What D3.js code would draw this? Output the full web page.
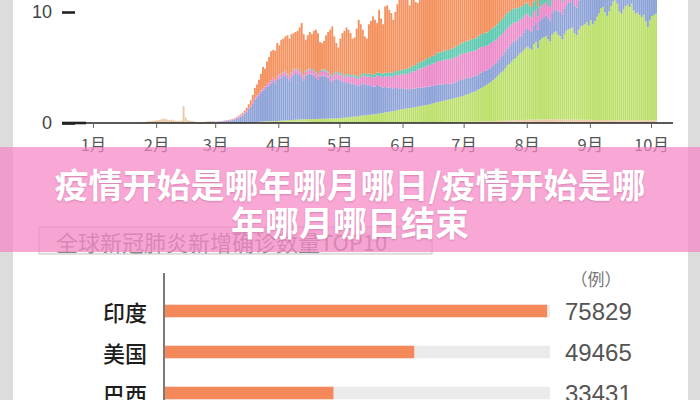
<!DOCTYPE html>
<html><head><meta charset="utf-8">
<script src="https://cdn.jsdelivr.net/npm/d3@7"></script>
<style>html,body{margin:0;padding:0;background:#dcdcdc;} svg{display:block;}</style>
</head><body><svg id="c" width="700" height="400"></svg>
<script>
// ---------- DATA ----------
const monthLabels = ["1月","2月","3月","4月","5月","6月","7月","8月","9月","10月"];
const yTickValues = [0, 10];
const regionNames = ["西太平洋","东南亚","欧洲","东地中海","非洲","美洲"];
const regionColors = ["#ecc9a6","#bde06d","#8ea3d7","#ec8dcb","#60c9b1","#f4925f"];

// daily new cases (万), one array per month Jan..Oct
const wpac = [
 [0,0,0,0,0,0,0,0,0,0,0,0,0,0,0,0,0,0,0,0.01,0.01,0.02,0.03,0.04,0.07,0.08,0.13,0.17,0.15,0.2,0.21],
 [0.26,0.28,0.32,0.39,0.37,0.31,0.27,0.3,0.25,0.2,0.18,0.2,0.22,1.52,0.5,0.26,0.2,0.19,0.17,0.04,0.09,0.06,0.07,0.08,0.1,0.12,0.13,0.12,0.09],
 [0.06,0.06,0.07,0.06,0.06,0.05,0.05,0.04,0.03,0.03,0.03,0.03,0.03,0.03,0.03,0.04,0.04,0.04,0.05,0.06,0.06,0.07,0.08,0.09,0.1,0.11,0.11,0.1,0.1,0.09,0.09],
 [0.1,0.1,0.1,0.11,0.11,0.1,0.1,0.11,0.12,0.12,0.13,0.12,0.12,0.12,0.1,0.1,0.1,0.09,0.08,0.08,0.07,0.07,0.06,0.06,0.06,0.05,0.05,0.05,0.05,0.05],
 [0.05,0.05,0.04,0.04,0.05,0.05,0.05,0.04,0.04,0.04,0.05,0.05,0.05,0.05,0.05,0.05,0.05,0.05,0.05,0.05,0.05,0.05,0.06,0.06,0.06,0.06,0.06,0.06,0.06,0.07,0.07],
 [0.07,0.07,0.07,0.07,0.07,0.07,0.07,0.08,0.08,0.08,0.08,0.08,0.08,0.08,0.08,0.08,0.09,0.09,0.09,0.09,0.09,0.1,0.1,0.1,0.1,0.1,0.1,0.1,0.1,0.11],
 [0.11,0.11,0.12,0.12,0.12,0.13,0.13,0.13,0.14,0.14,0.15,0.15,0.16,0.16,0.17,0.17,0.18,0.19,0.2,0.2,0.21,0.22,0.22,0.23,0.24,0.25,0.25,0.26,0.27,0.28,0.28],
 [0.29,0.3,0.3,0.31,0.32,0.32,0.33,0.33,0.33,0.34,0.34,0.34,0.35,0.35,0.34,0.34,0.33,0.33,0.33,0.32,0.32,0.31,0.31,0.3,0.3,0.3,0.29,0.29,0.29,0.28,0.28],
 [0.28,0.27,0.27,0.27,0.26,0.26,0.26,0.26,0.25,0.25,0.25,0.25,0.25,0.25,0.25,0.25,0.25,0.25,0.25,0.25,0.25,0.25,0.25,0.24,0.24,0.24,0.24,0.24,0.24,0.24],
 [0.24,0.24,0.24]
];
const seAsia = [
 [0,0,0,0,0,0,0,0,0,0,0,0,0,0,0,0,0,0,0,0,0,0,0,0,0,0,0,0,0,0,0],
 [0,0,0,0,0,0,0,0,0,0,0,0,0,0,0,0,0,0,0,0,0,0,0,0,0,0,0,0,0],
 [0,0,0,0,0,0,0,0,0,0,0.002,0.003,0.005,0.005,0.008,0.01,0.012,0.015,0.02,0.025,0.03,0.04,0.04,0.05,0.05,0.06,0.06,0.07,0.07,0.08,0.08],
 [0.1,0.11,0.12,0.13,0.14,0.15,0.16,0.17,0.18,0.19,0.2,0.21,0.22,0.23,0.24,0.25,0.26,0.27,0.28,0.29,0.3,0.31,0.32,0.33,0.34,0.35,0.36,0.37,0.38,0.39],
 [0.4,0.42,0.44,0.46,0.48,0.5,0.52,0.54,0.56,0.58,0.6,0.62,0.64,0.66,0.68,0.7,0.72,0.74,0.77,0.8,0.83,0.86,0.89,0.92,0.95,0.98,1.01,1.05,1.09,1.13,1.17],
 [1.2,1.22,1.25,1.28,1.3,1.33,1.36,1.4,1.43,1.46,1.5,1.53,1.56,1.6,1.66,1.72,1.76,1.8,1.84,1.88,1.92,1.96,2.0,2.05,2.1,2.14,2.18,2.22,2.27,2.32],
 [2.38,2.45,2.5,2.6,2.65,2.7,2.8,2.9,3.0,3.1,3.2,3.3,3.4,3.55,3.7,3.85,4.0,4.2,4.35,4.5,4.75,5.0,5.1,5.3,5.5,5.6,5.8,6.0,6.1,6.3,6.5],
 [6.6,6.4,6.3,6.8,7.0,6.4,7.1,7.3,7.4,7.5,7.2,7.0,7.6,7.8,7.9,7.6,7.5,7.2,7.7,8.0,8.1,8.2,8.3,7.8,7.6,8.1,8.4,8.5,8.6,8.8,8.5],
 [9.0,8.6,8.9,9.3,9.6,10.1,10.2,9.7,9.4,9.8,10.3,10.7,10.8,10.5,9.8,9.6,10.0,10.3,10.4,10.2,10.5,9.9,9.6,9.7,9.5,9.3,9.5,8.9,8.4,9.0],
 [9.4,9.5,9.6]
];
const europe = [
 [0,0,0,0,0,0,0,0,0,0,0,0,0,0,0,0,0,0,0,0,0,0,0,0,0,0,0,0,0,0,0],
 [0,0,0,0,0,0,0,0,0,0,0,0,0,0,0,0,0,0,0,0,0,0.001,0.002,0.005,0.01,0.01,0.02,0.02,0.03],
 [0.04,0.05,0.06,0.08,0.1,0.12,0.15,0.18,0.22,0.28,0.35,0.45,0.55,0.65,0.8,1.0,1.2,1.4,1.7,2.0,2.2,2.4,2.6,2.8,2.9,3.1,3.2,3.4,3.6,3.4,3.7],
 [3.8,3.9,4.0,4.1,3.8,3.6,3.9,4.1,4.2,4.1,4.0,3.8,3.5,3.9,4.0,4.1,4.0,3.9,3.7,3.5,3.8,3.9,3.9,3.8,3.7,3.4,3.3,3.5,3.6,3.5],
 [3.4,3.3,3.1,3.2,3.1,3.0,3.0,2.9,2.8,2.7,2.8,2.9,2.8,2.7,2.7,2.6,2.5,2.5,2.6,2.5,2.4,2.3,2.3,2.2,2.2,2.1,2.0,2.1,2.0,1.9,1.9],
 [1.8,1.8,1.7,1.7,1.75,1.7,1.65,1.7,1.7,1.65,1.6,1.65,1.65,1.6,1.6,1.55,1.6,1.6,1.55,1.5,1.5,1.45,1.4,1.4,1.35,1.4,1.45,1.45,1.5,1.5],
 [1.5,1.5,1.45,1.4,1.4,1.4,1.35,1.4,1.4,1.35,1.35,1.3,1.3,1.3,1.3,1.3,1.3,1.35,1.4,1.45,1.5,1.5,1.55,1.6,1.6,1.55,1.5,1.5,1.5,1.55,1.6],
 [1.6,1.6,1.6,1.65,1.7,1.7,1.75,1.8,1.8,1.85,1.9,1.9,1.95,2.0,2.0,2.1,2.2,2.2,2.3,2.3,2.4,2.4,2.5,2.5,2.5,2.6,2.6,2.7,2.7,2.8,2.8],
 [2.8,2.9,3.0,3.0,3.1,3.2,3.3,3.3,3.4,3.5,3.6,3.6,3.7,3.8,3.9,4.0,4.0,4.1,4.2,4.3,4.3,4.4,4.5,4.6,4.6,4.7,4.8,4.9,4.9,5.0],
 [5.1,5.2,5.3]
];
const emed = [
 [0,0,0,0,0,0,0,0,0,0,0,0,0,0,0,0,0,0,0,0,0,0,0,0,0,0,0,0,0,0,0],
 [0,0,0,0,0,0,0,0,0,0,0,0,0,0,0,0,0,0,0,0,0,0,0.001,0.002,0.003,0.005,0.005,0.008,0.01],
 [0.02,0.03,0.03,0.04,0.05,0.06,0.06,0.07,0.08,0.08,0.09,0.1,0.1,0.11,0.12,0.12,0.13,0.14,0.15,0.16,0.17,0.18,0.19,0.2,0.22,0.24,0.25,0.27,0.28,0.3,0.3],
 [0.3,0.3,0.32,0.32,0.33,0.33,0.34,0.35,0.35,0.36,0.36,0.37,0.37,0.38,0.38,0.39,0.4,0.4,0.41,0.42,0.42,0.43,0.44,0.45,0.45,0.46,0.47,0.48,0.49,0.5],
 [0.5,0.52,0.54,0.56,0.58,0.6,0.62,0.64,0.66,0.68,0.7,0.72,0.74,0.76,0.78,0.8,0.82,0.84,0.86,0.88,0.9,0.93,0.96,0.99,1.02,1.05,1.08,1.12,1.16,1.2,1.25],
 [1.3,1.35,1.4,1.45,1.5,1.55,1.6,1.65,1.7,1.75,1.8,1.85,1.9,1.95,2.0,2.0,2.05,2.1,2.1,2.15,2.2,2.2,2.2,2.25,2.25,2.25,2.25,2.3,2.3,2.3],
 [2.3,2.3,2.3,2.3,2.3,2.3,2.3,2.3,2.3,2.25,2.25,2.2,2.2,2.2,2.15,2.1,2.1,2.05,2.0,1.95,1.9,1.85,1.8,1.75,1.7,1.65,1.6,1.55,1.5,1.45,1.4],
 [1.35,1.3,1.3,1.25,1.25,1.2,1.22,1.18,1.2,1.21,1.19,1.2,1.22,1.2,1.18,1.17,1.2,1.22,1.21,1.19,1.18,1.2,1.2,1.19,1.18,1.2,1.21,1.2,1.19,1.2,1.2],
 [1.2,1.2,1.2,1.25,1.25,1.25,1.3,1.3,1.3,1.3,1.35,1.35,1.35,1.35,1.4,1.4,1.4,1.4,1.45,1.45,1.45,1.45,1.5,1.5,1.5,1.5,1.5,1.5,1.5,1.5],
 [1.5,1.5,1.5]
];
const africa = [
 [0,0,0,0,0,0,0,0,0,0,0,0,0,0,0,0,0,0,0,0,0,0,0,0,0,0,0,0,0,0,0],
 [0,0,0,0,0,0,0,0,0,0,0,0,0,0,0,0,0,0,0,0,0,0,0,0,0,0,0,0,0],
 [0,0,0,0,0,0,0,0,0,0,0,0,0,0,0,0.002,0.003,0.005,0.007,0.01,0.01,0.012,0.015,0.02,0.02,0.025,0.03,0.03,0.035,0.04,0.04],
 [0.04,0.045,0.05,0.05,0.055,0.06,0.06,0.065,0.07,0.07,0.075,0.08,0.08,0.085,0.09,0.09,0.095,0.1,0.1,0.105,0.11,0.11,0.115,0.12,0.12,0.125,0.13,0.13,0.135,0.14],
 [0.15,0.15,0.16,0.16,0.17,0.17,0.18,0.18,0.19,0.19,0.2,0.21,0.22,0.23,0.24,0.25,0.26,0.27,0.28,0.29,0.3,0.31,0.32,0.33,0.34,0.35,0.36,0.37,0.38,0.39,0.4],
 [0.42,0.44,0.46,0.48,0.5,0.52,0.54,0.56,0.58,0.6,0.62,0.64,0.66,0.68,0.7,0.72,0.74,0.76,0.78,0.8,0.82,0.84,0.86,0.88,0.9,0.92,0.94,0.96,0.98,1.0],
 [1.02,1.04,1.06,1.08,1.1,1.1,1.12,1.14,1.16,1.18,1.2,1.2,1.22,1.24,1.26,1.28,1.3,1.3,1.32,1.34,1.35,1.35,1.35,1.3,1.3,1.25,1.2,1.15,1.1,1.05,1.0],
 [1.0,0.98,0.95,0.93,0.9,0.88,0.86,0.84,0.82,0.8,0.78,0.76,0.74,0.72,0.7,0.68,0.66,0.64,0.62,0.6,0.6,0.58,0.56,0.55,0.54,0.53,0.52,0.51,0.5,0.5,0.5],
 [0.5,0.5,0.49,0.48,0.47,0.46,0.45,0.44,0.43,0.42,0.41,0.4,0.4,0.39,0.38,0.37,0.36,0.35,0.35,0.34,0.34,0.33,0.33,0.32,0.32,0.31,0.31,0.3,0.3,0.3],
 [0.3,0.3,0.3]
];
const americas = [
 [0,0,0,0,0,0,0,0,0,0,0,0,0,0,0,0,0,0,0,0,0,0,0,0,0,0,0,0,0,0,0],
 [0,0,0,0,0,0,0,0,0,0,0,0,0,0,0,0,0,0,0,0,0,0,0,0,0,0,0,0,0],
 [0,0,0,0,0.01,0.01,0.01,0.02,0.03,0.04,0.05,0.07,0.1,0.12,0.15,0.2,0.3,0.45,0.6,0.9,1.0,1.2,1.5,1.9,1.6,2.0,2.3,2.6,2.5,2.6,3.0],
 [2.66,3.05,3.01,3.09,3.47,3.36,3.44,3.3,3.28,3.46,3.84,4.42,3.71,2.79,3.09,3.27,3.15,3.54,3.83,3.7,2.6,2.38,2.57,3.14,3.53,4.02,4.39,3.27,2.55,2.22],
 [3.1,3.66,4.02,4.18,4.02,3.78,3.23,3.4,4.25,5.11,4.55,3.9,3.35,3.2,4.45,4.8,5.25,4.9,4.44,5.68,4.92,4.45,5.97,6.1,5.63,5.36,4.79,5.3,6.01,6.61,6.71],
 [6.61,6.32,6.62,5.62,6.18,6.43,5.68,5.41,5.71,7.0,7.3,7.5,7.2,6.9,7.6,7.8,8.0,8.2,7.6,7.4,8.1,8.4,8.6,8.8,8.3,8.0,9.0,9.3,9.5,9.8],
 [10.0,10.2,10.5,10.1,9.8,10.6,11.0,11.3,11.6,11.8,11.2,10.9,11.9,12.2,12.5,12.6,12.3,11.8,12.4,12.8,13.0,13.2,12.9,12.4,12.0,12.6,13.0,13.3,13.5,13.0,12.6],
 [12.0,11.5,11.2,11.8,12.0,12.2,11.6,11.0,10.8,10.5,11.2,11.5,11.3,11.0,10.6,10.2,10.0,10.5,10.8,10.6,10.2,9.8,9.5,9.8,10.0,10.2,9.9,9.6,9.4,9.2,9.0],
 [9.0,8.8,8.6,8.9,9.1,8.7,8.4,8.2,8.5,8.8,8.6,8.3,8.0,8.2,8.5,8.7,8.4,8.1,8.3,8.6,8.8,8.5,8.2,8.0,8.3,8.6,8.9,8.7,8.4,8.2],
 [8.5,8.8,9.0]
];

const topCategories = ["印度","美国","巴西"];
const topValues = [75829, 49465, 33431];
const unitLabel = "（例）";
const boxTitle = "全球新冠肺炎新增确诊数量TOP10";
const bannerLines = ["疫情开始是哪年哪月哪日/疫情开始是哪","年哪月哪日结束"];

// ---------- DRAW ----------
const svg = d3.select("#c");
svg.append("rect").attr("width",700).attr("height",400).attr("fill","#dcdcdc");
svg.append("rect").attr("x",13).attr("y",0).attr("width",675).attr("height",400).attr("fill","#ffffff");

const seriesData = [wpac, seAsia, europe, emed, africa, americas];
const rows = [];
for (let m = 0; m < wpac.length; m++) {
  for (let i = 0; i < wpac[m].length; i++) {
    const row = {date: new Date(2020, m, i + 1)};
    seriesData.forEach((s, k) => { row[regionNames[k]] = (s[m] && s[m][i]) || 0; });
    rows.push(row);
  }
}
const layers = d3.stack().keys(regionNames)(rows);

const x = d3.scaleTime().domain([new Date(2020,0,1), new Date(2020,9,1)]).range([93, 651]);
const y = d3.scaleLinear().domain([0, 10]).range([123, 12]);
const color = d3.scaleOrdinal().domain(regionNames).range(regionColors);

const gBars = svg.append("g");
gBars.selectAll("g").data(layers).join("g")
  .attr("fill", d => color(d.key))
  .selectAll("rect").data(d => d).join("rect")
  .attr("x", d => x(d.data.date))
  .attr("width", d => x(d3.timeDay.offset(d.data.date, 1)) - x(d.data.date) - 0.12)
  .attr("y", d => y(d[1]))
  .attr("height", d => Math.max(0, y(d[0]) - y(d[1])));

// baseline
svg.append("line").attr("x1",62).attr("x2",673).attr("y1",y(0)).attr("y2",y(0))
  .attr("stroke","#222").attr("stroke-width",1.4);
svg.append("line").attr("x1",62).attr("x2",86).attr("y1",y(0)).attr("y2",y(0))
  .attr("stroke","#222").attr("stroke-width",2.6);

// x axis
const monthDates = monthLabels.map((_, i) => new Date(2020, i, 1));
const xAxis = svg.append("g").attr("transform", `translate(0,${y(0)})`)
  .call(d3.axisBottom(x).tickValues(monthDates).tickFormat((d,i) => monthLabels[i]).tickSize(5).tickPadding(11));
xAxis.select(".domain").remove();
xAxis.selectAll(".tick line").attr("stroke","#666").attr("stroke-width",1);
xAxis.selectAll(".tick text").attr("font-family","'Noto Sans CJK SC','Liberation Sans',sans-serif")
  .attr("font-size",16.5).attr("fill","#555");

// y axis
const yAxis = svg.append("g").attr("transform","translate(75,0)")
  .call(d3.axisLeft(y).tickValues(yTickValues).tickSize(13).tickPadding(10));
yAxis.select(".domain").remove();
yAxis.selectAll(".tick line").attr("stroke","#222").attr("stroke-width",2.6);
yAxis.selectAll(".tick text").attr("font-family","'Liberation Sans',Arial,sans-serif")
  .attr("font-size",18).attr("fill","#444");

// ---------- bottom chart ----------
svg.append("rect").attr("x",39).attr("y",227).attr("width",393).attr("height",27)
  .attr("fill","#f3f3f3").attr("stroke","#c6c6c6").attr("stroke-width",1);
svg.append("text").attr("x",56).attr("y",241).attr("dominant-baseline","central")
  .attr("font-family","'Noto Sans CJK SC',sans-serif").attr("font-size",22).attr("fill","#8a8a8a")
  .text(boxTitle);

const xb = d3.scaleLinear().domain([0, 76400]).range([165, 550]);
const yb = d3.scalePoint().domain(topCategories).range([311, 393]);
const barH = 12.5;

svg.append("line").attr("x1",164).attr("x2",164).attr("y1",273).attr("y2",400)
  .attr("stroke","#333").attr("stroke-width",1.3);

const rowsB = svg.append("g").selectAll("g").data(topCategories).join("g");
rowsB.append("rect").attr("x", xb(0)).attr("y", d => yb(d) - barH/2)
  .attr("width", xb.range()[1] - xb(0)).attr("height", barH).attr("fill","#ebebeb");
rowsB.append("rect").attr("x", xb(0)).attr("y", d => yb(d) - barH/2)
  .attr("width", (d,i) => xb(topValues[i]) - xb(0)).attr("height", barH).attr("fill","#f48a5c");
rowsB.append("text").attr("x",147).attr("y", d => yb(d)).attr("text-anchor","end")
  .attr("dominant-baseline","central").attr("font-family","'Noto Sans CJK SC',sans-serif")
  .attr("font-size",22).attr("font-weight",500).attr("fill","#1e1e1e").text(d => d);
rowsB.append("text").attr("x",565).attr("y", d => yb(d)).attr("dominant-baseline","central")
  .attr("font-family","'Liberation Sans',Arial,sans-serif").attr("font-size",24).attr("fill","#555")
  .text((d,i) => topValues[i]);
svg.append("text").attr("x",596).attr("y",278).attr("text-anchor","middle").attr("dominant-baseline","central")
  .attr("font-family","'Noto Sans CJK SC',sans-serif").attr("font-size",17).attr("fill","#777").text(unitLabel);

// ---------- banner ----------
svg.append("rect").attr("x",0).attr("y",147).attr("width",700).attr("height",105)
  .attr("fill","rgb(246,135,198)").attr("fill-opacity",0.72);
svg.append("g").selectAll("text").data(bannerLines).join("text")
  .attr("x",350).attr("y",(d,i) => 183 + i*38).attr("text-anchor","middle").attr("dominant-baseline","central")
  .attr("font-family","'Noto Sans CJK SC',sans-serif").attr("font-weight",700).attr("font-size",34)
  .attr("fill","#ffffff").style("text-shadow","0 1px 2px rgba(150,60,110,0.35)")
  .text(d => d);
</script></body></html>
